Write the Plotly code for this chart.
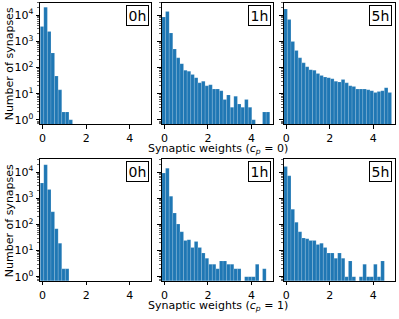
import numpy as np
import plotly.graph_objects as go

# ---------------- data ----------------
BIN_START = -0.11
BIN_WIDTH = 0.165
N_BINS = 30

TIME_LABELS = ["0h", "1h", "5h"]
ROW_XLABELS = ["Synaptic weights (<i>c</i><sub><i>p</i></sub> = 0)",
               "Synaptic weights (<i>c</i><sub><i>p</i></sub> = 1)"]
Y_LABEL = "Number of synapses"
Y_TICK_VALUES = [1, 10, 100, 1000, 10000]
Y_TICK_TEXT = ["10<sup>0</sup>", "10<sup>1</sup>", "10<sup>2</sup>", "10<sup>3</sup>", "10<sup>4</sup>"]
X_TICK_VALUES = [0, 2, 4]
X_TICK_TEXT = ["0", "2", "4"]

counts_cp0_0h = [3700, 20400, 2400, 363, 47, 14, 2, 2, 1, 0,
                 0, 0, 0, 0, 0, 0, 0, 0, 0, 0,
                 0, 0, 0, 0, 0, 0, 0, 0, 0, 0]
counts_cp0_1h = [8500, 14000, 2100, 510, 234, 141, 79, 72, 54, 41,
                 26, 30, 20, 22, 15, 15, 13, 6, 9, 3,
                 8, 4, 3, 6, 3, 1, 0, 0, 2, 2]
counts_cp0_5h = [17400, 6800, 1000, 447, 234, 151, 107, 83, 79, 59,
                 50, 43, 41, 37, 30, 28, 35, 26, 20, 19,
                 15, 15, 15, 14, 13, 11, 12, 13, 17, 11]
counts_cp1_0h = [3800, 19000, 2140, 302, 68, 19, 2, 2, 0, 0,
                 0, 0, 0, 0, 0, 0, 0, 0, 0, 0,
                 0, 0, 0, 0, 0, 0, 0, 0, 0, 0]
counts_cp1_1h = [9100, 14000, 1200, 269, 102, 52, 24, 26, 13, 22,
                 13, 8, 5, 3, 3, 2, 4, 4, 3, 3,
                 2, 2, 0, 1, 1, 1, 3, 0, 2, 0]
counts_cp1_5h = [16200, 7200, 380, 120, 52, 30, 28, 24, 24, 17,
                 19, 13, 8, 8, 5, 8, 5, 1, 4, 1,
                 0, 1, 3, 1, 1, 3, 1, 4, 0, 0]

PANELS = [[counts_cp0_0h, counts_cp0_1h, counts_cp0_5h],
          [counts_cp1_0h, counts_cp1_1h, counts_cp1_5h]]

# ---------------- layout geometry (pixels) ----------------
W, H = 399, 319
COL_LEFT = [39.3, 161.4, 283.5]
COL_WIDTH = 111.3
ROW_TOP = [2.7, 161.0]
ROW_HEIGHT = 122.5
X_RANGE = [-0.11, 4.99]
Y_RANGE = [-0.16, 4.48]
BAR_COLOR = "#1f77b4"
FONT = "DejaVu Sans"

edges = BIN_START + BIN_WIDTH * np.arange(N_BINS + 1)
centers = (edges[:-1] + edges[1:]) / 2

minor_vals = [m * 10 ** k for k in range(-1, 5) for m in range(2, 10)]

fig = go.Figure()
layout = dict(
    width=W, height=H, margin=dict(l=0, r=0, t=0, b=0),
    paper_bgcolor="white", plot_bgcolor="white",
    showlegend=False, bargap=0,
    font=dict(family=FONT, size=11, color="black"),
)
annotations = []

for r in range(2):
    for c in range(3):
        n = r * 3 + c + 1
        sfx = "" if n == 1 else str(n)
        counts = np.array(PANELS[r][c], dtype=float)
        yvals = [v if v > 0 else None for v in counts]
        fig.add_trace(go.Bar(
            x=centers, y=yvals, width=BIN_WIDTH,
            marker=dict(color=BAR_COLOR, line=dict(color="rgba(255,255,255,0.35)", width=0.4)),
            xaxis="x" + sfx, yaxis="y" + sfx,
        ))
        x0 = COL_LEFT[c] / W
        x1 = (COL_LEFT[c] + COL_WIDTH) / W
        y1 = 1 - ROW_TOP[r] / H
        y0 = 1 - (ROW_TOP[r] + ROW_HEIGHT) / H
        layout["xaxis" + sfx] = dict(
            domain=[x0, x1], anchor="y" + sfx, range=X_RANGE,
            showline=True, mirror=True, linecolor="black", linewidth=1,
            showgrid=False, zeroline=False,
            ticks="outside", ticklen=3.5, tickwidth=1, tickcolor="black",
            tickvals=X_TICK_VALUES, ticktext=X_TICK_TEXT,
            tickfont=dict(family=FONT, size=11, color="black"),
        )
        layout["yaxis" + sfx] = dict(
            domain=[y0, y1], anchor="x" + sfx, type="log", range=Y_RANGE,
            showline=True, mirror=True, linecolor="black", linewidth=1,
            showgrid=False, zeroline=False,
            ticks="outside", ticklen=3.5, tickwidth=1, tickcolor="black",
            tickvals=Y_TICK_VALUES, ticktext=Y_TICK_TEXT,
            showticklabels=(c == 0),
            tickfont=dict(family=FONT, size=11, color="black"),
            minor=dict(ticks="outside", ticklen=2, tickwidth=0.6, tickcolor="black",
                       tickmode="array", tickvals=minor_vals, showgrid=False),
        )
        annotations.append(dict(
            text=TIME_LABELS[c], xref="x" + sfx + " domain", yref="y" + sfx + " domain",
            x=1, y=1, xanchor="right", yanchor="top", xshift=-2.5, yshift=-2,
            showarrow=False, bgcolor="white", bordercolor="black", borderwidth=1,
            borderpad=1.5, font=dict(family=FONT, size=14, color="black"),
        ))
    # y label
    annotations.append(dict(
        text=Y_LABEL, xref="paper", yref="paper",
        x=8 / W, y=1 - (ROW_TOP[r] + ROW_HEIGHT / 2) / H,
        xanchor="center", yanchor="middle", textangle=-90, showarrow=False,
        font=dict(family=FONT, size=11, color="black"),
    ))
    # x label
    annotations.append(dict(
        text=ROW_XLABELS[r], xref="paper", yref="paper",
        x=(COL_LEFT[1] + COL_WIDTH / 2) / W,
        y=1 - (ROW_TOP[r] + ROW_HEIGHT + 25.5) / H,
        xanchor="center", yanchor="middle", showarrow=False,
        font=dict(family=FONT, size=11, color="black"),
    ))

layout["annotations"] = annotations
fig.update_layout(**layout)
fig.write_html(
    "out.html",
    config={"displayModeBar": False, "staticPlot": True},
    post_script="document.body.style.margin='0';document.body.style.padding='0';"
                "document.documentElement.style.overflow='hidden';",
)
